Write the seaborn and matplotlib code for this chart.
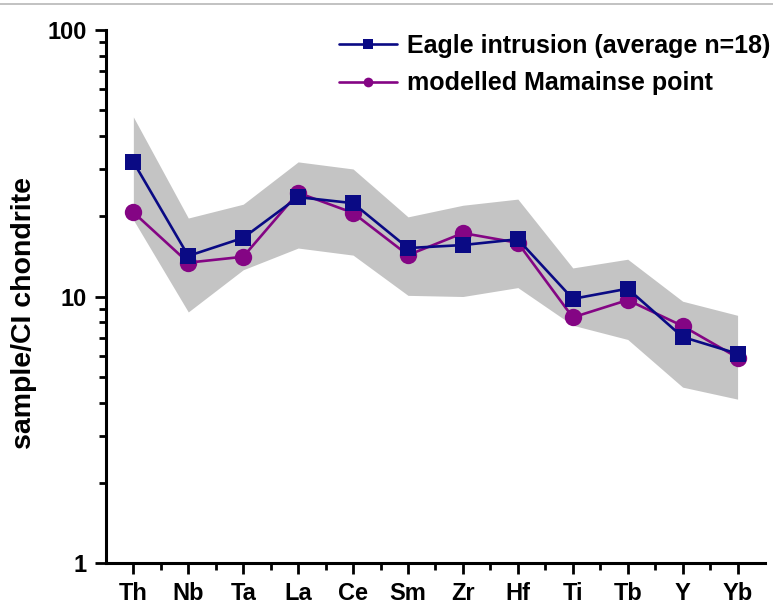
import matplotlib
matplotlib.use("Agg")
import matplotlib.pyplot as plt
from matplotlib.lines import Line2D
from matplotlib.ticker import LogLocator, NullFormatter, FixedLocator
import seaborn as sns
import pandas as pd

elements = ["Th", "Nb", "Ta", "La", "Ce", "Sm", "Zr", "Hf", "Ti", "Tb", "Y", "Yb"]
eagle_avg = [32.0, 14.2, 16.6, 23.6, 22.4, 15.2, 15.6, 16.4, 9.8, 10.7, 7.05, 6.1]
mamainse = [20.7, 13.4, 14.1, 24.5, 20.6, 14.3, 17.3, 15.9, 8.35, 9.7, 7.75, 5.9]
range_upper = [47.2, 19.7, 22.2, 32.0, 30.1, 19.9, 22.0, 23.2, 12.8, 13.8, 9.6, 8.5]
range_lower = [19.4, 8.75, 12.6, 15.2, 14.3, 10.1, 10.0, 10.8, 7.8, 6.9, 4.57, 4.12]

sns.set_theme(style="ticks", rc={"text.color": "black", "axes.labelcolor": "black",
                                 "xtick.color": "black", "ytick.color": "black",
                                 "axes.edgecolor": "black"})
plt.rcParams["font.family"] = ["Liberation Sans", "DejaVu Sans"]
plt.rcParams["font.weight"] = "bold"

pos = list(range(len(elements)))
df = pd.DataFrame({"pos": pos, "eagle": eagle_avg, "mam": mamainse,
                   "hi": range_upper, "lo": range_lower})

fig = plt.figure(figsize=(7.73, 6.05), dpi=100)
ax = fig.add_axes([0.137, 0.0694, 0.8527, 0.881])

ax.fill_between(df["pos"], df["lo"], df["hi"], color="#c4c4c4", linewidth=0, zorder=1)

navy = "#0a0a84"
purple = "#840584"
sns.lineplot(data=df, x="pos", y="mam", ax=ax, color=purple, linewidth=1.9,
             marker="o", markersize=12.5, markeredgewidth=0, zorder=3)
sns.lineplot(data=df, x="pos", y="eagle", ax=ax, color=navy, linewidth=1.9,
             marker="s", markersize=11, markeredgewidth=0, zorder=4)

ax.set_yscale("log")
ax.set_ylim(1, 100)
ax.set_xlim(-0.5, 11.5)
ax.set_xticks(pos)
ax.set_xticklabels(elements, fontsize=17, fontweight="bold")
ax.xaxis.set_minor_locator(FixedLocator([p + 0.5 for p in pos[:-1]]))
ax.set_yticks([1, 10, 100])
ax.set_yticklabels(["1", "10", "100"], fontsize=17, fontweight="bold")
ax.yaxis.set_minor_locator(LogLocator(base=10, subs=range(2, 10)))
ax.yaxis.set_minor_formatter(NullFormatter())

ax.tick_params(axis="both", which="major", length=8, width=2, pad=6)
ax.tick_params(axis="both", which="minor", length=5, width=2)
for side in ("left", "bottom"):
    ax.spines[side].set_linewidth(2.2)
for side in ("right", "top"):
    ax.spines[side].set_visible(False)

ax.set_xlabel("")
ax.set_ylabel("sample/CI chondrite", fontsize=20.5, fontweight="bold")
ax.yaxis.set_label_coords(-0.105, 0.47)

handles = [
    Line2D([], [], color=navy, linewidth=1.9, marker="s", markersize=6.5, markeredgewidth=0),
    Line2D([], [], color=purple, linewidth=1.9, marker="o", markersize=7, markeredgewidth=0),
]
leg = ax.legend(handles, ["Eagle intrusion (average n=18)", "modelled Mamainse point"],
                loc="upper right", bbox_to_anchor=(1.023, 1.012), frameon=False,
                prop={"size": 18, "weight": "bold"}, handlelength=2.3,
                handletextpad=0.4, labelspacing=0.55, borderaxespad=0)

fig.add_artist(Line2D([0, 1], [0.993, 0.993], transform=fig.transFigure,
                      color="#b8b8b8", linewidth=1.2))

fig.savefig("out.png", dpi=100)
